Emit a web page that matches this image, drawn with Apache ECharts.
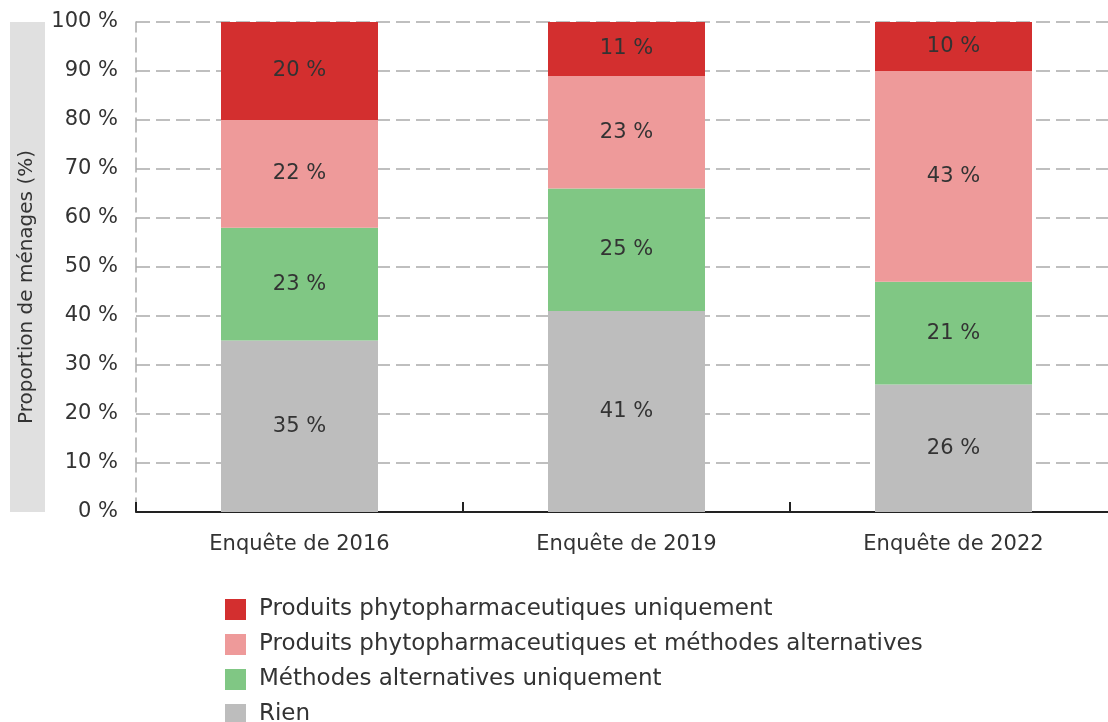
<!DOCTYPE html>
<html>
<head>
<meta charset="utf-8">
<script src="https://cdn.jsdelivr.net/npm/echarts@6/dist/echarts.min.js"></script>
<style>
  html, body { margin: 0; padding: 0; background: #fff; }
  #chart { width: 1108px; height: 722px; }
</style>
</head>
<body>
<div id="chart"></div>
<script>
// données
var categories = ['Enquête de 2016', 'Enquête de 2019', 'Enquête de 2022'];
var rien = [35, 41, 26];
var methodes = [23, 25, 21];
var lesDeux = [22, 23, 43];
var phyto = [20, 11, 10];
var yTicks = [0, 10, 20, 30, 40, 50, 60, 70, 80, 90, 100];

var names = {
  phyto: 'Produits phytopharmaceutiques uniquement',
  both: 'Produits phytopharmaceutiques et méthodes alternatives',
  meth: 'Méthodes alternatives uniquement',
  rien: 'Rien'
};

var font = 'DejaVu Sans';

// une série empilée
function barSerie(name, data, color) {
  return {
    name: name,
    type: 'bar',
    stack: 'total',
    barWidth: 157,
    data: data,
    itemStyle: { color: color },
    label: {
      show: true,
      position: 'inside',
      formatter: '{c} %',
      color: '#333',
      fontSize: 21,
      fontFamily: font
    },
    emphasis: { disabled: true }
  };
}

var myChart = echarts.init(document.getElementById('chart'));
var option = {
  animation: false,
  textStyle: { fontFamily: font },
  // la grille déborde un peu à droite, comme dans l'original
  grid: { left: 136, width: 981, top: 22, height: 490, containLabel: false, outerBoundsMode: 'none' },
  graphic: [
    {
      type: 'rect',
      left: 10, top: 22,
      shape: { width: 35, height: 490 },
      style: { fill: '#e0e0e0' },
      z: -1
    },
    {
      type: 'text',
      x: 27, y: 287,
      rotation: Math.PI / 2,
      style: {
        text: 'Proportion de ménages (%)',
        fontSize: 20,
        fontFamily: font,
        fill: '#333',
        align: 'center',
        verticalAlign: 'middle'
      }
    }
  ],
  legend: {
    orient: 'vertical',
    left: 220,
    top: 593,
    height: 200,
    itemWidth: 21,
    itemHeight: 21,
    itemGap: 12,
    icon: 'rect',
    data: [names.phyto, names.both, names.meth, names.rien],
    textStyle: { fontSize: 23, color: '#333', fontFamily: font, padding: [0, 0, 0, 8] }
  },
  xAxis: {
    type: 'category',
    data: categories,
    axisLine: { lineStyle: { color: '#222', width: 2 } },
    axisTick: { show: true, inside: true, length: 10, lineStyle: { color: '#222', width: 2 } },
    axisLabel: { fontSize: 21, color: '#333', margin: 22, fontFamily: font }
  },
  yAxis: {
    type: 'value',
    min: 0,
    max: 100,
    interval: 10,
    axisLine: { show: true, lineStyle: { color: '#aaa', type: [14, 6], width: 1.5 } },
    axisTick: { show: false },
    axisLabel: {
      fontSize: 21, color: '#333', margin: 18, fontFamily: font,
      formatter: function(v) { return yTicks.indexOf(v) >= 0 ? v + ' %' : ''; }
    },
    splitLine: { show: true, lineStyle: { color: '#aaa', type: [14, 6], width: 1.5 } }
  },
  series: [
    barSerie(names.rien, rien, '#bdbdbd'),
    barSerie(names.meth, methodes, '#80c784'),
    barSerie(names.both, lesDeux, '#ee9a9a'),
    barSerie(names.phyto, phyto, '#d32f2f')
  ]
};
myChart.setOption(option);
</script>
</body>
</html>
